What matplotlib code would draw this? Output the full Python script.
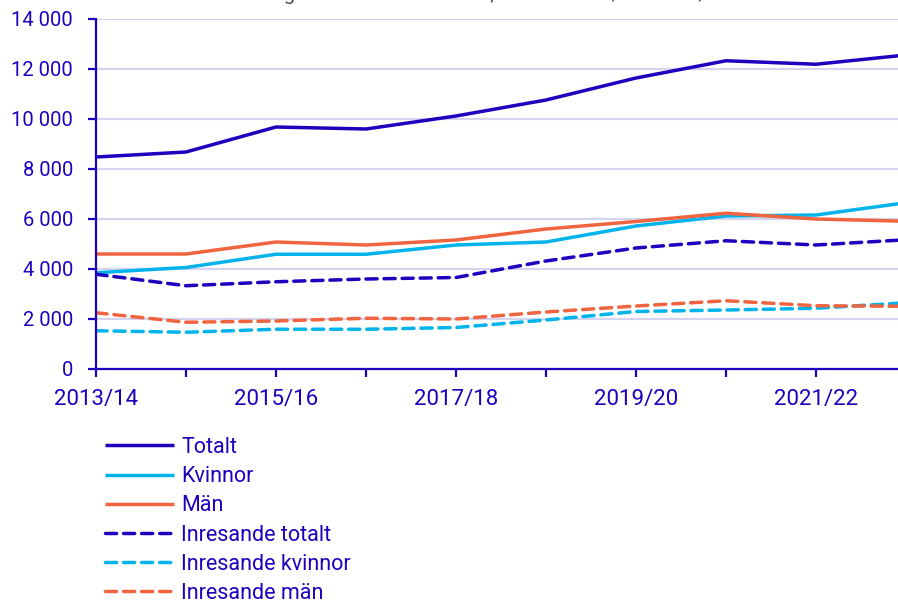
import matplotlib
matplotlib.use("Agg")
import matplotlib.pyplot as plt
from matplotlib.ticker import FuncFormatter, MultipleLocator

plt.rcParams['font.family'] = ['Roboto', 'DejaVu Sans']

years = ["2013/14", "2014/15", "2015/16", "2016/17", "2017/18",
         "2018/19", "2019/20", "2020/21", "2021/22", "2022/23"]
totalt = [8480, 8680, 9680, 9600, 10120, 10760, 11640, 12330, 12190, 12560]
kvinnor = [3850, 4060, 4590, 4590, 4960, 5080, 5720, 6120, 6160, 6650]
man = [4600, 4600, 5080, 4960, 5160, 5600, 5900, 6230, 6000, 5910]
inr_totalt = [3790, 3330, 3490, 3600, 3660, 4320, 4840, 5130, 4960, 5170]
inr_kvinnor = [1530, 1470, 1590, 1590, 1660, 1960, 2300, 2360, 2430, 2650]
inr_man = [2250, 1870, 1920, 2030, 2000, 2280, 2520, 2730, 2530, 2510]
labels = ["Totalt", "Kvinnor", "Män", "Inresande totalt",
          "Inresande kvinnor", "Inresande män"]

DARK = '#1E00BE'
LIGHT = '#00B4EB'
ORANGE = '#F0643F'
GRID = '#D4D4EE'

W, H = 898, 600
fig = plt.figure(figsize=(W / 100, H / 100), dpi=100)
left, right = 96 / W, 906 / W
bottom, top = 1 - 369 / H, 1 - 19 / H
ax = fig.add_axes([left, bottom, right - left, top - bottom])

x = list(range(len(years)))
lw = 2.5
dash = (3.2, 2.0)
series = [
    (totalt, DARK, '-'), (kvinnor, LIGHT, '-'), (man, ORANGE, '-'),
    (inr_totalt, DARK, '--'), (inr_kvinnor, LIGHT, '--'), (inr_man, ORANGE, '--'),
]
handles = []
for (vals, col, ls), lab in zip(series, labels):
    kw = dict(color=col, lw=lw, solid_capstyle='butt', label=lab)
    if ls == '--':
        kw['dashes'] = dash
        kw['dash_capstyle'] = 'round'
    h, = ax.plot(x, vals, **kw)
    handles.append(h)

ax.set_xlim(0, len(years) - 1)
ax.set_ylim(0, 14000)
ax.yaxis.set_major_locator(MultipleLocator(2000))
ax.yaxis.set_major_formatter(FuncFormatter(lambda v, p: f"{int(v):,}".replace(",", " ")))
ax.set_xticks(x)
ax.set_xticklabels([y if i % 2 == 0 else "" for i, y in enumerate(years)])

ax.grid(axis='y', color=GRID, lw=1.6)
ax.set_axisbelow(True)
for s in ['top', 'right']:
    ax.spines[s].set_visible(False)
for s in ['left', 'bottom']:
    ax.spines[s].set_color(DARK)
    ax.spines[s].set_linewidth(1.6)
ax.tick_params(axis='both', colors=DARK, labelcolor=DARK, width=1.6)
ax.tick_params(axis='x', labelsize=16, length=5.5, pad=9)
ax.tick_params(axis='y', labelsize=14.5, length=6, pad=10.5)

leg = fig.legend(handles=handles, loc='upper left',
                 bbox_to_anchor=(105 / W, 1 - 437 / H), frameon=False,
                 fontsize=15.5, handlelength=3.2, handletextpad=0.35,
                 labelspacing=0.38, borderaxespad=0, borderpad=0)
for t in leg.get_texts():
    t.set_color(DARK)

fig.text(0.0, 1.0,
         "Antal studenter i masterutbildningar totalt och inresande, läsåren 2013/14–2022/23",
         fontsize=14, color='#444444', va='baseline', ha='left')

fig.savefig("out.png", dpi=100)
